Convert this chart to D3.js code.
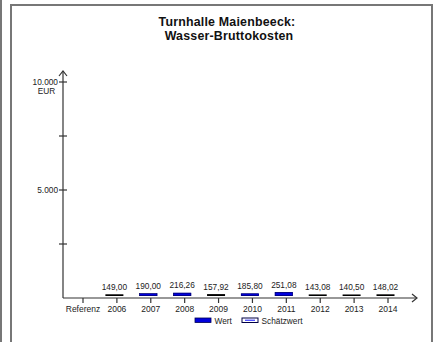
<!DOCTYPE html>
<html><head><meta charset="utf-8">
<script src="https://cdn.jsdelivr.net/npm/d3@7"></script>
<style>
html,body{margin:0;padding:0;background:#fff;}
svg{display:block;font-family:"Liberation Sans",Arial,sans-serif;}
</style></head>
<body>
<svg id="c" width="438" height="342"></svg>
<script>
const titleLines = ["Turnhalle Maienbeeck:", "Wasser-Bruttokosten"];
const categories = ["Referenz","2006","2007","2008","2009","2010","2011","2012","2013","2014"];
const values =     [null, 149.00, 190.00, 216.26, 157.92, 185.80, 251.08, 143.08, 140.50, 148.02];
const valueLabels = ["", "149,00","190,00","216,26","157,92","185,80","251,08","143,08","140,50","148,02"];
const valueTypes = [null, "S","W","W","S","W","W","S","S","S"]; // W = Wert, S = Schätzwert
const yTicks = [0, 2500, 5000, 7500, 10000];
const yTickLabels = {5000: "5.000", 10000: "10.000"};
const yUnit = "EUR";
const legendItems = [{key:"W", label:"Wert"}, {key:"S", label:"Schätzwert"}];

const svg = d3.select("#c");
const axisColor = "#333";

// frames
svg.append("rect").attr("x",0).attr("y",0).attr("width",2).attr("height",342).attr("fill","#777");
svg.append("path").attr("d","M11,342 V5 H432 V342").attr("fill","none").attr("stroke","#777").attr("stroke-width",2);

// title
svg.append("text").attr("x",227).attr("y",26).attr("text-anchor","middle")
  .attr("font-weight","bold").attr("font-size",12.4).attr("letter-spacing",0.2).attr("fill","#111").text(titleLines[0]);
svg.append("text").attr("x",229).attr("y",40).attr("text-anchor","middle")
  .attr("font-weight","bold").attr("font-size",12.4).attr("letter-spacing",0.2).attr("fill","#111").text(titleLines[1]);

const x = d3.scalePoint().domain(categories).range([83, 388]);
const y = d3.scaleLinear().domain([0, 10000]).range([298, 82]);
const x0 = 63, xEnd = 417;

// y axis
svg.append("line").attr("x1",x0).attr("x2",x0).attr("y1",y(0)).attr("y2",71).attr("stroke",axisColor).attr("stroke-width",1.2);
svg.append("path").attr("d",`M${x0-4},${76} L${x0},${71} L${x0+4},${76}`).attr("fill","none").attr("stroke",axisColor).attr("stroke-width",1.2);
svg.selectAll(".yt").data(yTicks.filter(d=>d>0)).enter().append("line")
  .attr("x1",x0-4).attr("x2",x0+4).attr("y1",d=>y(d)).attr("y2",d=>y(d)).attr("stroke",axisColor).attr("stroke-width",1.2);
svg.selectAll(".yl").data(yTicks.filter(d=>yTickLabels[d])).enter().append("text")
  .attr("x",x0-5).attr("y",d=>y(d)+3).attr("text-anchor","end").attr("font-size",8.3).attr("fill","#222")
  .text(d=>yTickLabels[d]);
svg.append("text").attr("x",46.5).attr("y",y(10000)+12).attr("text-anchor","middle").attr("font-size",8.3).attr("fill","#222").text(yUnit);

// x axis
svg.append("line").attr("x1",x0).attr("x2",xEnd).attr("y1",y(0)).attr("y2",y(0)).attr("stroke",axisColor).attr("stroke-width",1.2);
svg.append("path").attr("d",`M${xEnd-5},${y(0)-4} L${xEnd},${y(0)} L${xEnd-5},${y(0)+4}`).attr("fill","none").attr("stroke",axisColor).attr("stroke-width",1.2);
svg.selectAll(".xt").data(categories).enter().append("line")
  .attr("x1",d=>x(d)).attr("x2",d=>x(d)).attr("y1",y(0)).attr("y2",y(0)+5).attr("stroke",axisColor).attr("stroke-width",1.2);
svg.selectAll(".xl").data(categories).enter().append("text")
  .attr("x",d=>x(d)).attr("y",312).attr("text-anchor","middle").attr("font-size",8.5).attr("fill","#222").text(d=>d);

// bars
const barW = 18, barOff = -2.5, gap = 2;
const data = categories.map((c,i)=>({c, v:values[i], lab:valueLabels[i], t:valueTypes[i]})).filter(d=>d.v!=null);
const fillFor = t => t==="W" ? "#0000dd" : "#000";
svg.selectAll(".bar").data(data).enter().append("rect")
  .attr("x",d=>x(d.c)+barOff-barW/2).attr("width",barW)
  .attr("y",d=>y(d.v)-0.5).attr("height",d=>Math.max(1.5, y(0)-gap-y(d.v)+0.5))
  .attr("fill",d=>fillFor(d.t));
// dark outline on Wert bars
svg.selectAll(".bo").data(data.filter(d=>d.t==="W")).enter().append("rect")
  .attr("x",d=>x(d.c)+barOff-barW/2+0.3).attr("width",barW-0.6)
  .attr("y",d=>y(d.v)-0.2).attr("height",d=>Math.max(1, y(0)-gap-y(d.v)-0.1))
  .attr("fill","none").attr("stroke","#000055").attr("stroke-width",0.6);
svg.selectAll(".vl").data(data).enter().append("text")
  .attr("x",d=>x(d.c)+barOff).attr("y",d=>y(d.v)-5).attr("text-anchor","middle")
  .attr("font-size",8.3).attr("fill","#222").text(d=>d.lab);

// legend
const lg = svg.append("g");
const lx = [195, 242];
legendItems.forEach((it,i)=>{
  const g = lg.append("g").attr("transform",`translate(${lx[i]},318)`);
  if (it.key==="W") {
    g.append("rect").attr("x",0).attr("y",0).attr("width",16).attr("height",4.5).attr("fill","#0000dd").attr("stroke","#000055").attr("stroke-width",0.8);
  } else {
    g.append("rect").attr("x",0).attr("y",0).attr("width",16).attr("height",4.5).attr("fill","#fff").attr("stroke","#000044").attr("stroke-width",1);
    g.append("line").attr("x1",3).attr("x2",13).attr("y1",2.25).attr("y2",2.25).attr("stroke","#3333ff").attr("stroke-width",1.2);
  }
  g.append("text").attr("x",19.5).attr("y",6).attr("font-size",8.3).attr("fill","#222").text(it.label);
});
</script>
</body></html>
